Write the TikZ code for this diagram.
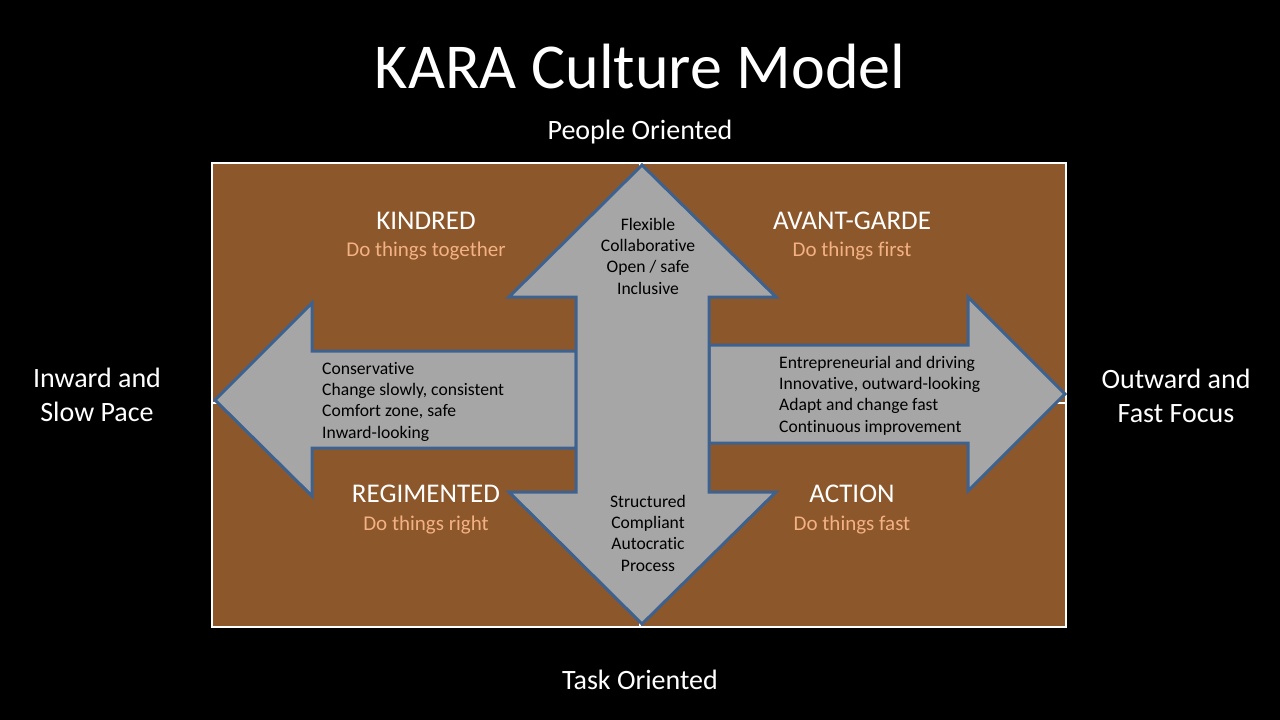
\documentclass[tikz,border=0pt]{standalone}
\usepackage{fontspec}
\setmainfont{Carlito}[Ligatures={TeX,NoCommon}]
\definecolor{karabrown}{HTML}{8C572B}
\definecolor{karagray}{HTML}{A6A6A6}
\definecolor{karaedge}{HTML}{3E6290}
\definecolor{karapeach}{HTML}{F4B183}

\begin{document}
\begin{tikzpicture}[x=1pt, y=-1pt,
    quad/.style={white, font=\fontsize{27}{32}\selectfont, anchor=base},
    motto/.style={karapeach, font=\fontsize{21}{25}\selectfont, anchor=base},
    pole/.style={white, font=\fontsize{28}{34}\selectfont, align=center, anchor=base},
    trait/.style={font=\fontsize{17.6}{21.3}\selectfont, anchor=base, inner sep=0pt},
    arrowshape/.style={fill=karagray, draw=karaedge, line width=3pt, line join=miter}]
  % slide background
  \fill[black] (0,0) rectangle (1280,720);
  \useasboundingbox (0,0) rectangle (1280,720);
  % quadrant field with axes
  \draw[white, line width=1.5pt, fill=karabrown] (212,163) rectangle (1066,627);
  \draw[white, line width=1.5pt] (212,403) -- (1066,403);
  \draw[white, line width=1.5pt] (640,163) -- (640,627);
  % left and right arrows
  \draw[arrowshape] (215,400) -- (312,303) -- (312,351) -- (576,351) -- (576,448)
    -- (312,448) -- (312,496) -- cycle;
  \draw[arrowshape] (1065,394) -- (968,297) -- (968,345) -- (709,345) -- (709,443)
    -- (968,443) -- (968,491) -- cycle;
  % up/down arrow
  \draw[arrowshape] (642,165) -- (776,297) -- (709,297) -- (709,492) -- (776,492)
    -- (642,624) -- (509,492) -- (576,492) -- (576,297) -- (509,297) -- cycle;

  \node[white, font=\fontsize{64}{70}\selectfont, anchor=base] (title) at (640,88) {KARA Culture Model};
  \node[pole] (people) at (640,139) {People Oriented};
  \node[pole] (task) at (640,689) {Task Oriented};
  \node[pole] (inward) at (97,421) {Inward and\\Slow Pace};
  \node[pole] (outward) at (1176,422) {Outward and\\Fast Focus};

  \node[quad] (kindred) at (426,229) {KINDRED};
  \node[motto] (kindredsub) at (426,256) {Do things together};
  \node[quad] (avant) at (852,229) {AVANT-GARDE};
  \node[motto] (avantsub) at (852,256) {Do things first};
  \node[quad] (regimented) at (426,502) {REGIMENTED};
  \node[motto] (regimentedsub) at (426,530) {Do things right};
  \node[quad] (action) at (852,502) {ACTION};
  \node[motto] (actionsub) at (852,530) {Do things fast};

  % trait lists (base = last line)
  \node[trait, align=center] (flexible) at (648,294) {Flexible\\Collaborative\\Open / safe\\Inclusive};
  \node[trait, align=center] (structured) at (648,571) {Structured\\Compliant\\Autocratic\\Process};
  \node[trait, align=left, anchor=base west] (conservative) at (322,438) {Conservative\\Change slowly, consistent\\Comfort zone, safe\\Inward-looking};
  \node[trait, align=left, anchor=base west] (entrepreneurial) at (779,432) {Entrepreneurial and driving\\Innovative, outward-looking\\Adapt and change fast\\Continuous improvement};
\end{tikzpicture}
\end{document}
